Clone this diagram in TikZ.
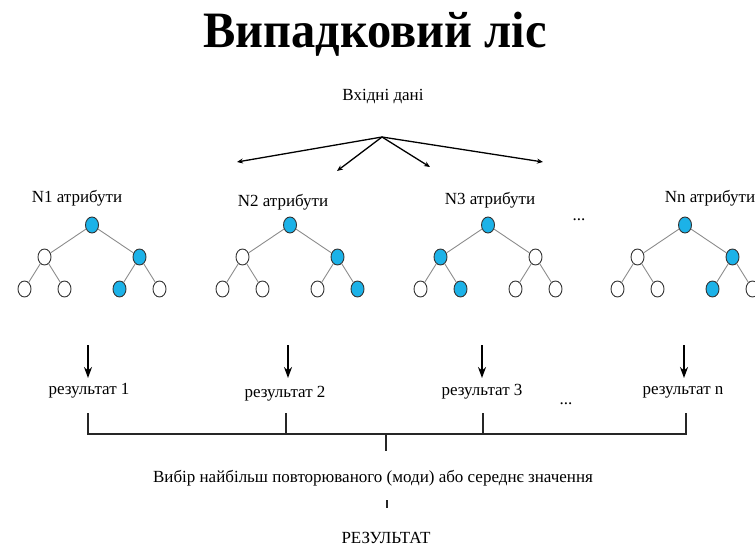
\documentclass[tikz,border=0pt]{standalone}
\usepackage{fontspec}
\setmainfont{Liberation Serif}
\usetikzlibrary{arrows.meta,shapes.geometric}
\definecolor{vuzolblue}{RGB}{28,178,232}

\begin{document}
\begin{tikzpicture}[x=1pt,y=-1pt,grow=down,level distance=32pt] % випадковий ліс
\tikzstyle{txt} = [inner sep=0pt, font=\fontsize{17}{20}\selectfont] % підписи
\tikzstyle{vuzol} = [ellipse, draw=black!80, fill=white, minimum width=13pt, minimum height=16pt, inner sep=0pt, line width=0.9pt] % порожній вузол
\tikzstyle{aktyv} = [vuzol, fill=vuzolblue] % вибраний вузол
\tikzstyle{level 1}=[sibling distance=95pt] % відстань між сусідніми вузлами
\tikzstyle{level 2}=[sibling distance=40pt]
\tikzstyle{edge from parent}=[draw=gray!90, line width=0.9pt]
\tikzstyle{tonka} = [-{Stealth[length=6pt,width=5pt]}, line width=1.3pt] % розгалуження
\tikzstyle{tovsta} = [-{Stealth[length=11pt,width=8pt]}, line width=2.3pt] % стрілки вниз
\tikzstyle{duzhka} = [line width=1.4pt, black!85]
\useasboundingbox (0,0) rectangle (755,549);

\node[inner sep=0pt, xscale=0.95, font=\bfseries\fontsize{51}{56}\selectfont] (zagolovok) at (375,34) {Випадковий ліс};

\node[txt] (vkhid) at (383,97) {Вхідні дані};
\coordinate (rozg) at (382,137);
\coordinate (c1) at (237,162);
\coordinate (c2) at (337,171);
\coordinate (c3) at (430,167);
\coordinate (c4) at (543,162);
\foreach \i in {1,...,4}
  \draw[tonka] (rozg) -- (c\i);

\node[txt] (n1) at (77,198) {N1 атрибути};
\node[txt] (n2) at (283,202) {N2 атрибути};
\node[txt] (n3) at (490,200) {N3 атрибути};
\node[txt] (nn) at (710,198) {Nn атрибути};
\node[txt] (krapky1) at (579,220) {...};

\node[aktyv] (t1) at (92,225) {} % перше дерево
    child { node[vuzol] {}
        child { node[vuzol] {} }
        child { node[vuzol] {} } }
    child { node[aktyv] {}
        child { node[aktyv] {} }
        child { node[vuzol] {} } };
\node[aktyv] (t2) at (290,225) {} % друге дерево
    child { node[vuzol] {}
        child { node[vuzol] {} }
        child { node[vuzol] {} } }
    child { node[aktyv] {}
        child { node[vuzol] {} }
        child { node[aktyv] {} } };
\node[aktyv] (t3) at (488,225) {} % третє дерево
    child { node[aktyv] {}
        child { node[vuzol] {} }
        child { node[aktyv] {} } }
    child { node[vuzol] {}
        child { node[vuzol] {} }
        child { node[vuzol] {} } };
\node[aktyv] (t4) at (685,225) {} % n-те дерево
    child { node[vuzol] {}
        child { node[vuzol] {} }
        child { node[vuzol] {} } }
    child { node[aktyv] {}
        child { node[aktyv] {} }
        child { node[vuzol] {} } };

\node[txt] (r1) at (89,391) {результат 1};
\node[txt] (r2) at (285,394) {результат 2};
\node[txt] (r3) at (482,392) {результат 3};
\node[txt] (rn) at (683,392) {результат n};
\node[txt] (krapky2) at (566,404) {...};

\foreach \n/\x in {1/88,2/288,3/482,4/684} {
  \coordinate (s\n) at (\x,345);
  \coordinate (e\n) at (\x,378);
  \draw[tovsta] (s\n) -- (e\n);
}

\coordinate (b1) at (88,413);   \coordinate (h1) at (88,434);
\coordinate (b2) at (286,413);  \coordinate (h2) at (286,434);
\coordinate (b3) at (483,413);  \coordinate (h3) at (483,434);
\coordinate (b4) at (686,413);  \coordinate (h4) at (686,434);
\coordinate (hc) at (386,434);  \coordinate (hd) at (386,451);
\draw[duzhka] (b1) -- (h1) -- (h4) -- (b4);
\draw[duzhka] (b2) -- (h2);
\draw[duzhka] (b3) -- (h3);
\draw[duzhka] (hc) -- (hd);

\node[txt] (vybir) at (373,478) {Вибір найбільш повторюваного (моди) або середнє значення};
\coordinate (m1) at (387,500);
\coordinate (m2) at (387,508);
\draw[duzhka] (m1) -- (m2);
\node[txt] (rezult) at (386,538) {РЕЗУЛЬТАТ};
\end{tikzpicture}
\end{document}
